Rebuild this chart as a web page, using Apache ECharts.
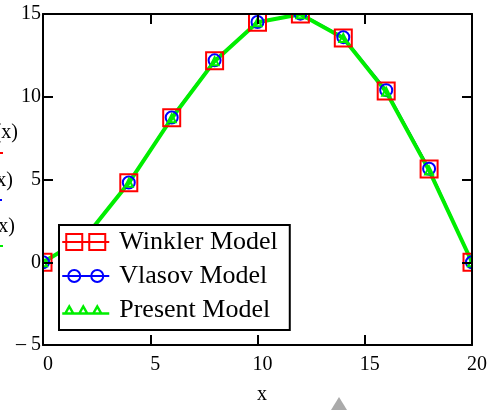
<!DOCTYPE html>
<html>
<head>
<meta charset="utf-8">
<script src="https://cdn.jsdelivr.net/npm/echarts@6/dist/echarts.min.js"></script>
<style>
html,body{margin:0;padding:0;background:#fff;}
#chart{width:494px;height:410px;}
</style>
</head>
<body>
<div id="chart"></div>
<script>
var xValues = [0, 2, 4, 6, 8, 10, 12, 14, 16, 18, 20];
var winkler = [0, 1.6, 4.8, 8.73, 12.17, 14.5, 15.0, 13.55, 10.35, 5.63, 0];
var vlasov  = [0, 1.6, 4.82, 8.75, 12.2, 14.52, 15.02, 13.6, 10.4, 5.65, 0];
var present = [0, 1.55, 4.8, 8.7, 12.15, 14.5, 14.98, 13.55, 10.3, 5.55, 0];
var seriesNames = ['Winkler Model', 'Vlasov Model', 'Present Model'];
var xTicks = [0, 5, 10, 15, 20];
var yTicks = [-5, 0, 5, 10, 15];

function pairs(ys) { return xValues.map(function (x, i) { return [x, ys[i]]; }); }
var FONT = "'Liberation Serif','Times New Roman',serif";

var chart = echarts.init(document.getElementById('chart'), null, {renderer: 'canvas'});

function axisBase(extra) {
  var a = {
    type: 'value',
    zlevel: 1,
    z: 5,
    axisLine: {show: true, onZero: false, lineStyle: {color: '#000', width: 2}},
    axisTick: {show: true, inside: true, length: 10, lineStyle: {color: '#000', width: 2}},
    splitLine: {show: false}
  };
  for (var k in extra) a[k] = extra[k];
  return a;
}

var option = {
  animation: false,
  backgroundColor: '#fff',
  grid: {left: 43, right: 22, top: 14, bottom: 64, containLabel: false},
  xAxis: [
    axisBase({
      position: 'bottom', min: xTicks[0], max: xTicks[xTicks.length - 1], interval: 5,
      name: 'x', nameLocation: 'middle', nameGap: 40,
      nameTextStyle: {fontFamily: FONT, fontSize: 20, color: '#000', padding: [0, 0, 0, 9]},
      axisLabel: {fontFamily: FONT, fontSize: 20, color: '#000', margin: 10, padding: [0, 0, 0, 10]}
    }),
    axisBase({
      position: 'top', min: xTicks[0], max: xTicks[xTicks.length - 1], interval: 5,
      axisLabel: {show: false}
    })
  ],
  yAxis: [
    axisBase({
      position: 'left', min: yTicks[0], max: yTicks[yTicks.length - 1], interval: 5,
      axisLabel: {
        fontFamily: FONT, fontSize: 20, color: '#000', margin: 2, padding: [8, 0, 0, 0],
        formatter: function (v) { return v < 0 ? '\u2013 ' + Math.abs(v) : String(v); }
      }
    }),
    axisBase({
      position: 'right', min: yTicks[0], max: yTicks[yTicks.length - 1], interval: 5,
      axisLabel: {show: false}
    })
  ],
  legend: {
    orient: 'vertical',
    left: 59, top: 225,
    zlevel: 1,
    z: 8,
    selectedMode: false,
    backgroundColor: '#fff',
    borderColor: '#000',
    borderWidth: 2,
    borderRadius: 0,
    padding: [4, 12, 7, 2],
    itemWidth: 47,
    itemHeight: 18,
    itemGap: 8,
    symbolKeepAspect: true,
    textStyle: {fontFamily: FONT, fontSize: 26, color: '#000', padding: [0, 0, 0, 5]},
    data: [
      {name: seriesNames[0],
       icon: 'path://M0,9L47,9M4,1L20,1L20,17L4,17ZM27,1L43,1L43,17L27,17Z',
       itemStyle: {color: 'rgba(0,0,0,0)', borderColor: '#ff0000', borderWidth: 2}},
      {name: seriesNames[1],
       icon: 'path://M0,9L47,9M6,9A6,6,0,1,0,18,9A6,6,0,1,0,6,9ZM29,9A6,6,0,1,0,41,9A6,6,0,1,0,29,9Z',
       itemStyle: {color: 'rgba(0,0,0,0)', borderColor: '#0000ff', borderWidth: 2}},
      {name: seriesNames[2],
       icon: 'path://M0,10L47,10M3,10L7,3L11,10ZM17,10L21,3L25,10ZM31,10L35,3L39,10Z',
       itemStyle: {color: 'rgba(0,0,0,0)', borderColor: '#00ee00', borderWidth: 2.5}}
    ]
  },
  series: [
    {
      name: seriesNames[0], type: 'line', data: pairs(winkler), z: 2,
      symbol: 'rect', symbolSize: 17, showAllSymbol: true, clip: false,
      lineStyle: {color: '#ff0000', width: 2},
      itemStyle: {color: 'rgba(0,0,0,0)', borderColor: '#ff0000', borderWidth: 2}
    },
    {
      name: seriesNames[1], type: 'line', data: pairs(vlasov), z: 2,
      symbol: 'circle', symbolSize: 12, showAllSymbol: true, clip: false,
      lineStyle: {color: '#0000ff', width: 2},
      itemStyle: {color: 'rgba(0,0,0,0)', borderColor: '#0000ff', borderWidth: 2}
    },
    {
      name: seriesNames[2], type: 'line', data: pairs(present), z: 2,
      symbol: 'triangle', symbolSize: 8, showAllSymbol: true, clip: false,
      lineStyle: {color: '#00ee00', width: 4},
      itemStyle: {color: 'rgba(0,0,0,0)', borderColor: '#00ee00', borderWidth: 2}
    }
  ],
  graphic: [
    {type: 'rect', zlevel: 1, z: 0, shape: {x: 0, y: 0, width: 494, height: 13}, style: {fill: '#fff'}, silent: true},
    {type: 'rect', zlevel: 1, z: 0, shape: {x: 0, y: 0, width: 42, height: 410}, style: {fill: '#fff'}, silent: true},
    {type: 'rect', zlevel: 1, z: 0, shape: {x: 473, y: 0, width: 21, height: 410}, style: {fill: '#fff'}, silent: true},
    {type: 'rect', zlevel: 1, z: 0, shape: {x: 0, y: 347, width: 494, height: 63}, style: {fill: '#fff'}, silent: true},
    {type: 'text', zlevel: 1, z: 9, x: 18, y: 133, style: {text: 'w(x)', fontFamily: FONT, fontSize: 20, fill: '#000', align: 'right', verticalAlign: 'middle'}},
    {type: 'text', zlevel: 1, z: 9, x: 13, y: 181, style: {text: 'v(x)', fontFamily: FONT, fontSize: 20, fill: '#000', align: 'right', verticalAlign: 'middle'}},
    {type: 'text', zlevel: 1, z: 9, x: 15, y: 227, style: {text: 'p(x)', fontFamily: FONT, fontSize: 20, fill: '#000', align: 'right', verticalAlign: 'middle'}},
    {type: 'rect', zlevel: 1, z: 9, shape: {x: 0, y: 152, width: 3, height: 2}, style: {fill: '#ff0000'}},
    {type: 'rect', zlevel: 1, z: 9, shape: {x: 0, y: 199, width: 2, height: 2}, style: {fill: '#0000ff'}},
    {type: 'rect', zlevel: 1, z: 9, shape: {x: 0, y: 245, width: 3, height: 2}, style: {fill: '#00ee00'}},
    {type: 'polygon', zlevel: 1, z: 9, shape: {points: [[339, 397], [331, 410], [347, 410]]}, style: {fill: '#aaaaaa'}}
  ]
};
chart.setOption(option);
</script>
</body>
</html>
